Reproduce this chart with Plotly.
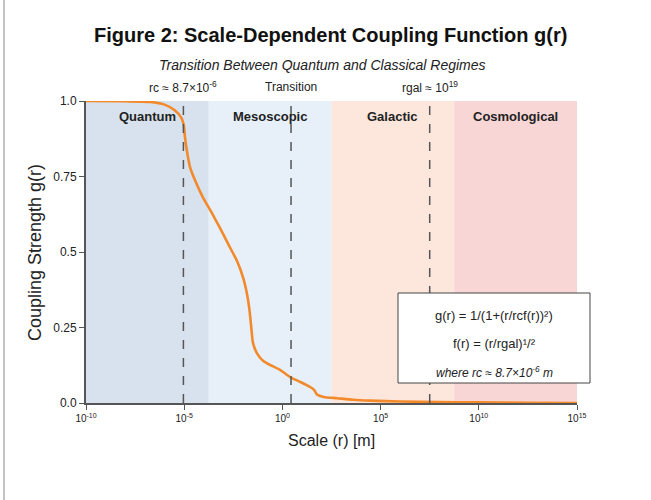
import plotly.graph_objects as go

# Curve values (log10 r, g)
log_r = [-10, -8, -6.74, -6.0, -5.5, -5.15, -5.02, -4.96, -4.85, -4.70, -4.4, -4.04, -3.6, -3.18, -2.75, -2.31, -2.0, -1.80, -1.68, -1.60, -1.50, -1.3, -0.99, -0.5, -0.12, 0.39, 0.9, 1.41, 1.62, 1.76, 2.1, 2.78, 3.6, 4.46, 6, 8, 10, 12.5, 15]
g_vals = [1.0, 0.999, 0.997, 0.988, 0.97, 0.945, 0.92, 0.88, 0.83, 0.78, 0.73, 0.68, 0.63, 0.58, 0.525, 0.47, 0.415, 0.36, 0.31, 0.26, 0.20, 0.165, 0.14, 0.122, 0.11, 0.086, 0.07, 0.053, 0.043, 0.028, 0.02, 0.016, 0.011, 0.008, 0.005, 0.003, 0.002, 0.001, 0.0]
r_vals = [10 ** v for v in log_r]

regions = ["Quantum", "Mesoscopic", "Galactic", "Cosmological"]
region_bounds = [(-10, -3.75), (-3.75, 2.5), (2.5, 8.75), (8.75, 15)]
region_colors = ["#d8e2ee", "#e7f0f9", "#fde7dd", "#f8d6d6"]

markers = ["rc ≈ 8.7×10<sup>-6</sup>", "Transition", "rgal ≈ 10<sup>19</sup>"]
marker_log = [-5.04, 0.44, 7.5]

x_tick_exp = [-10, -5, 0, 5, 10, 15]
y_ticks = [0.0, 0.25, 0.5, 0.75, 1.0]
y_tick_text = ["0.0", "0.25", "0.5", "0.75", "1.0"]

FONT = "Liberation Sans, Arial, sans-serif"
L, R, T, B = 86, 577, 101, 403


def px(xp):
    return (xp - L) / (R - L)


def py(yp):
    return (B - yp) / (B - T)


fig = go.Figure()

shapes = []
annotations = []
for name, (a, b), col in zip(regions, region_bounds, region_colors):
    shapes.append(dict(type="rect", xref="x", yref="y", x0=10 ** a, x1=10 ** b, y0=0, y1=1,
                       fillcolor=col, line=dict(width=0), layer="below"))
    annotations.append(dict(x=(a + b) / 2, y=py(116), xref="x", yref="paper", text="<b>" + name + "</b>",
                            showarrow=False, xanchor="center", yanchor="middle",
                            font=dict(size=13, color="#222", family=FONT)))
for lab, lx in zip(markers, marker_log):
    shapes.append(dict(type="line", xref="x", yref="y", x0=10 ** lx, x1=10 ** lx, y0=0, y1=1,
                       line=dict(color="#555", width=1.5, dash="dash"), layer="above"))
    annotations.append(dict(x=lx, y=py(87), xref="x", yref="paper", text=lab, showarrow=False,
                            xanchor="center", yanchor="middle",
                            font=dict(size=12, color="#222", family=FONT)))

# left page border
shapes.append(dict(type="line", xref="paper", yref="paper", x0=px(4), x1=px(4), y0=py(500), y1=py(0),
                   line=dict(color="#888", width=1)))

# formula box
shapes.append(dict(type="rect", xref="paper", yref="paper", x0=px(398), x1=px(590),
                   y0=py(383), y1=py(293), fillcolor="white",
                   line=dict(color="#444", width=1), layer="above"))
box_lines = ["g(r) = 1/(1+(r/rcf(r))²)", "f(r) = (r/rgal)¹/²", "<i>where rc ≈ 8.7×10<sup>-6</sup> m</i>"]
box_y = [315, 343, 372]
box_sizes = [13, 13, 12]
for t, yy, fs in zip(box_lines, box_y, box_sizes):
    annotations.append(dict(xref="paper", yref="paper", x=px(494), y=py(yy), xanchor="center",
                            yanchor="middle", text=t, showarrow=False,
                            font=dict(size=fs, color="#222", family=FONT)))

# title and subtitle
annotations.append(dict(xref="paper", yref="paper", x=px(330), y=py(35), xanchor="center", yanchor="middle",
                        text="<b>Figure 2: Scale-Dependent Coupling Function g(r)</b>", showarrow=False,
                        font=dict(size=20, color="#111", family=FONT)))
annotations.append(dict(xref="paper", yref="paper", x=px(322), y=py(65), xanchor="center", yanchor="middle",
                        text="<i>Transition Between Quantum and Classical Regimes</i>", showarrow=False,
                        font=dict(size=14, color="#222", family=FONT)))
# axis titles
annotations.append(dict(xref="paper", yref="paper", x=px(331), y=py(440), xanchor="center", yanchor="middle",
                        text="Scale (r) [m]", showarrow=False, font=dict(size=16, color="#222", family=FONT)))
annotations.append(dict(xref="paper", yref="paper", x=px(35), y=py(253), xanchor="center", yanchor="middle",
                        text="Coupling Strength g(r)", textangle=-90, showarrow=False,
                        font=dict(size=18, color="#222", family=FONT)))

fig.add_trace(go.Scatter(x=r_vals, y=g_vals, mode="lines",
                         line=dict(color="#f28a2c", width=2.6, shape="spline", smoothing=0.6),
                         showlegend=False, hoverinfo="skip"))

fig.update_layout(
    width=651, height=500,
    margin=dict(l=L, r=651 - R, t=T, b=500 - B),
    paper_bgcolor="white", plot_bgcolor="white",
    shapes=shapes, annotations=annotations,
    font=dict(family=FONT, color="#222"),
)
fig.update_xaxes(type="log", range=[-10, 15], tickvals=[10 ** e for e in x_tick_exp],
                 ticktext=["10<sup>%d</sup>" % e for e in x_tick_exp], tickfont=dict(size=10),
                 showgrid=False, zeroline=False, showline=True, linecolor="#555", linewidth=2,
                 ticks="outside", ticklen=5, tickcolor="#555", automargin=False)
fig.update_yaxes(range=[0, 1], tickvals=y_ticks, ticktext=y_tick_text, tickfont=dict(size=12),
                 showgrid=False, zeroline=False, showline=True, linecolor="#555", linewidth=2,
                 ticks="outside", ticklen=5, tickcolor="#555", automargin=False)

fig.write_html("out.html", config={"displayModeBar": False},
               post_script="document.body.style.margin='0';")
